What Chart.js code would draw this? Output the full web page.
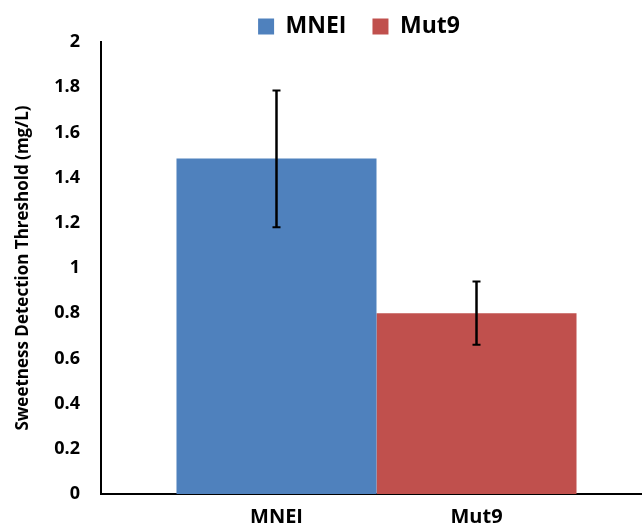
<!DOCTYPE html>
<html>
<head>
<meta charset="utf-8">
<script src="https://cdn.jsdelivr.net/npm/chart.js@4/dist/chart.umd.min.js"></script>
<style>
  html, body { margin: 0; padding: 0; background: #fff; overflow: hidden; }
  #wrap { width: 654px; height: 527px; position: relative; }
</style>
</head>
<body>
<div id="wrap"><canvas id="chart"></canvas></div>
<script>
// chart data
const categories = ['MNEI', 'Mut9'];
const values = [1.485, 0.80];
const errLow = [1.18, 0.66];
const errHigh = [1.785, 0.94];
const colors = ['#4F81BD', '#C0504D'];

const fontFamily = "'Open Sans', 'Liberation Sans', sans-serif";

// Draw error bars on top of each bar
const errorBars = {
    id: 'errorBars',
    afterDatasetsDraw(chart) {
        const ctx = chart.ctx;
        const y = chart.scales.y;
        ctx.save();
        ctx.strokeStyle = '#000';
        chart.data.datasets.forEach((ds, i) => {
            const bar = chart.getDatasetMeta(i).data[0];
            const x = bar.x;
            const top = y.getPixelForValue(errHigh[i]);
            const bottom = y.getPixelForValue(errLow[i]);
            ctx.lineWidth = 2.5;
            ctx.beginPath();
            ctx.moveTo(x, top);
            ctx.lineTo(x, bottom);
            ctx.stroke();
            ctx.lineWidth = 2;
            ctx.beginPath();
            ctx.moveTo(x - 4, top);
            ctx.lineTo(x + 4, top);
            ctx.moveTo(x - 4, bottom);
            ctx.lineTo(x + 4, bottom);
            ctx.stroke();
        });
        ctx.restore();
    }
};

// Category names under each bar
const barLabels = {
    id: 'barLabels',
    afterDraw(chart) {
        const ctx = chart.ctx;
        ctx.save();
        ctx.fillStyle = '#000';
        ctx.font = 'bold 20px ' + fontFamily;
        ctx.textAlign = 'center';
        ctx.textBaseline = 'middle';
        chart.data.datasets.forEach((ds, i) => {
            const bar = chart.getDatasetMeta(i).data[0];
            ctx.fillText(categories[i], bar.x, 517);
        });
        ctx.restore();
    }
};

// keep the legend box short and nudge it right like the original
const legendFit = {
    id: 'legendFit',
    beforeInit(chart) {
        const lg = chart.legend;
        const origFit = lg.fit;
        lg.fit = function () {
            origFit.call(this);
            this.height = 53;
        };
        const origDraw = lg.draw;
        lg.draw = function () {
            this.ctx.save();
            this.ctx.translate(33, 0);
            origDraw.call(this);
            this.ctx.restore();
        };
    }
};

new Chart(document.getElementById('chart'), {
    type: 'bar',
    data: {
        labels: [''],
        datasets: categories.map((name, i) => ({
            label: name,
            data: [values[i]],
            backgroundColor: colors[i],
            borderWidth: 0
        }))
    },
    options: {
        responsive: true,
        maintainAspectRatio: false,
        animation: false,
        layout: { padding: { left: 0, right: 2, top: -11, bottom: 33 } },
        datasets: {
            bar: { categoryPercentage: 0.726, barPercentage: 1 }
        },
        plugins: {
            legend: {
                position: 'top',
                labels: {
                    color: '#000',
                    boxWidth: 16,
                    boxHeight: 16,
                    padding: 26,
                    font: { family: fontFamily, size: 23, weight: 'bold' }
                }
            },
            tooltip: { enabled: false }
        },
        scales: {
            x: {
                grid: { display: false, drawTicks: false },
                border: { color: '#000', width: 2 },
                ticks: { display: false }
            },
            y: {
                min: 0,
                max: 2,
                ticks: {
                    stepSize: 0.2,
                    color: '#000',
                    padding: 21,
                    font: { family: fontFamily, size: 18, weight: 'bold' },
                    callback: v => String(Number(v.toFixed(1)))
                },
                grid: { display: false, drawTicks: false },
                border: { color: '#000', width: 2 },
                title: {
                    display: true,
                    text: 'Sweetness Detection Threshold (mg/L)',
                    color: '#000',
                    padding: { top: 13, bottom: 0 },
                    font: { family: fontFamily, size: 17, weight: 'bold' }
                },
                afterFit(scale) { scale.width = 101; }
            }
        }
    },
    plugins: [errorBars, barLabels, legendFit]
});
</script>
</body>
</html>
